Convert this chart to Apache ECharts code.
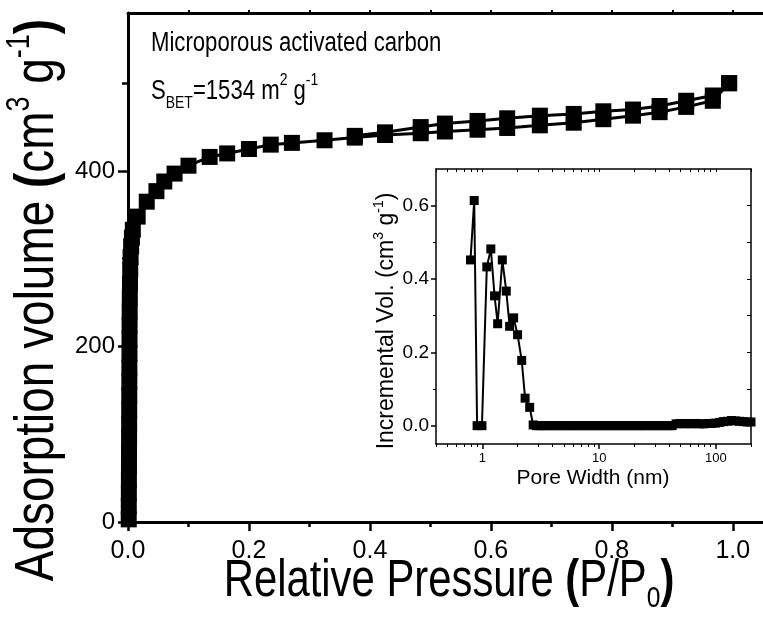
<!DOCTYPE html>
<html>
<head>
<meta charset="utf-8">
<script src="https://cdn.jsdelivr.net/npm/echarts@6/dist/echarts.min.js"></script>
<style>
html, body { margin: 0; padding: 0; background: #fff; }
#chart { width: 763px; height: 619px; }
</style>
</head>
<body>
<div id="chart"></div>
<script>
// isotherm, adsorption branch (P/P0, cm3/g)
const adsP = [0.0012, 0.0013, 0.0014, 0.0015, 0.0016, 0.0017, 0.0018, 0.0019, 0.0020, 0.0021, 0.0022, 0.0023, 0.0024, 0.0025, 0.0026,
  0.0028, 0.0030, 0.0033, 0.0037, 0.0043, 0.0052, 0.0065, 0.008,
  0.016, 0.031, 0.047, 0.060, 0.077, 0.100, 0.135, 0.164, 0.200, 0.236, 0.271, 0.325, 0.375, 0.425,
  0.484, 0.524, 0.578, 0.627, 0.681, 0.737, 0.786, 0.835, 0.879, 0.923, 0.967, 0.994]
const adsV = [3, 18, 33, 48, 64, 80, 96, 112, 128, 144, 160, 176, 192, 208, 224,
  240, 256, 272, 288, 302, 314, 324, 333,
  348, 365, 377, 388, 397, 406, 416, 420, 425, 430, 432, 435, 438, 441,
  443, 445, 447, 449, 452, 455, 459, 463, 467, 473, 480, 500]
// desorption branch
const desP = [0.994, 0.967, 0.923, 0.879, 0.835, 0.786, 0.737, 0.681, 0.627, 0.578, 0.524, 0.484, 0.425, 0.375]
const desV = [500, 486, 480, 474, 470, 468, 465, 463, 460, 457, 454, 450, 444, 440]

// inset: pore size distribution
const poreW = [0.79, 0.85, 0.90, 0.99, 1.09, 1.18, 1.27, 1.35, 1.48, 1.60, 1.71, 1.85, 2.00, 2.17, 2.32, 2.54, 2.72,
  2.9, 3.1, 3.3, 3.5, 3.8, 4.1, 4.4, 4.8, 5.2, 5.6, 6.0, 6.5, 7.0, 7.6, 8.2, 8.9, 9.6, 10.4, 11.2, 12.1,
  13.1, 14.2, 15.3, 16.6, 17.9, 19.4, 21, 22.7, 24.5, 26.5, 28.6, 30.9, 33.4, 36.1, 39, 42.2,
  45.6, 49.3, 53.3, 57.6, 62.3, 67.3, 72.8, 78.7, 85.1, 92, 99.5, 108, 116, 126, 136, 147, 159, 172, 186, 200]
const poreV = [0.452, 0.614, 0, 0, 0.433, 0.482, 0.354, 0.278, 0.452, 0.367, 0.271, 0.294, 0.248, 0.178, 0.075, 0.05, 0.002,
  0, 0, 0, 0, 0, 0, 0, 0, 0, 0, 0, 0, 0, 0, 0, 0, 0, 0, 0, 0,
  0, 0, 0, 0, 0, 0, 0, 0, 0, 0, 0, 0, 0, 0, 0, 0,
  0.005, 0.006, 0.005, 0.006, 0.005, 0.006, 0.005, 0.005, 0.006, 0.006, 0.007, 0.009, 0.011, 0.012, 0.014, 0.013, 0.012, 0.011, 0.01, 0.01]

// tick positions / labels
const xTicks = [0, 0.2, 0.4, 0.6, 0.8, 1.0]
const xMinor = [0.1, 0.3, 0.5, 0.7, 0.9]
const xTop = [0.1, 0.2, 0.3, 0.4, 0.5, 0.6, 0.7, 0.8, 0.9, 1.0]
const yTicks = [0, 200, 400]
const yMinor = [100, 300, 500]
const inXTicks = [1, 10, 100]
const inXMinor = [0.4, 0.5, 0.6, 0.7, 0.8, 0.9, 2, 3, 4, 5, 6, 7, 8, 9, 20, 30, 40, 50, 60, 70, 80, 90, 200]
const inYTicks = [0, 0.2, 0.4, 0.6]
const inYMinor = [0.1, 0.3, 0.5]

const FONT = "'Liberation Sans', Arial, sans-serif"
const SQ = 0.82 // the main figure's lettering is squeezed sideways

const zip = (a, b) => a.map((v, i) => [v, b[i]])

const chart = echarts.init(document.getElementById('chart'), null, { renderer: 'canvas' })

function axis(o) {
  // plain black axis, every piece switched on by the options given
  return {
    type: o.type || 'value',
    gridIndex: o.grid,
    position: o.position,
    min: o.min,
    max: o.max,
    splitLine: { show: false },
    axisLine: { show: o.line !== false, onZero: false, lineStyle: { color: '#000', width: o.lw || 3 } },
    axisTick: {
      show: !!o.ticks,
      customValues: o.ticks,
      inside: !!o.inside,
      length: o.tl || 8,
      lineStyle: { color: '#000', width: o.tw || 2.5 }
    },
    axisLabel: o.labels ? {
      show: true,
      customValues: o.labels,
      formatter: o.fmt,
      color: '#000',
      fontSize: o.fs,
      fontFamily: FONT,
      margin: o.margin
    } : { show: false }
  }
}

chart.setOption({
  animation: false,
  backgroundColor: '#fff',
  grid: [
    { left: 128, top: 13, width: 639, height: 509 },
    { left: 128, top: 13, width: 639, height: 509 },
    { left: 436, top: 169, width: 315, height: 275 },
    { left: 436, top: 169, width: 315, height: 275 }
  ],
  xAxis: [
    axis({ grid: 0, position: 'bottom', min: 0, max: 1.05, ticks: xTicks, labels: xTicks, fmt: v => v.toFixed(1), fs: 25, margin: 17, tl: 9 }),
    axis({ grid: 0, position: 'top', min: 0, max: 1.05, ticks: xTop, tl: 3, tw: 2 }),
    axis({ grid: 1, position: 'bottom', min: 0, max: 1.05, line: false, ticks: xMinor, tl: 5 }),
    axis({ grid: 2, type: 'log', position: 'bottom', min: 0.4, max: 200, lw: 1.5, ticks: inXTicks, tl: 5, tw: 1.5, labels: inXTicks, fmt: v => String(v), fs: 13, margin: 8 }),
    axis({ grid: 2, type: 'log', position: 'top', min: 0.4, max: 200, lw: 1.5, ticks: inXTicks.concat(inXMinor), inside: true, tl: 3, tw: 1 }),
    axis({ grid: 3, type: 'log', position: 'bottom', min: 0.4, max: 200, line: false, ticks: inXMinor, tl: 3, tw: 1 })
  ],
  yAxis: [
    axis({ grid: 0, position: 'left', min: 0, max: 580, ticks: yTicks, labels: yTicks, fmt: v => String(v), fs: 24, margin: 13, tl: 10 }),
    axis({ grid: 1, position: 'left', min: 0, max: 580, line: false, ticks: yMinor, tl: 6 }),
    axis({ grid: 2, position: 'left', min: -0.05, max: 0.7, lw: 1.5, ticks: inYTicks, tl: 5, tw: 1.5, labels: inYTicks, fmt: v => v.toFixed(1), fs: 19, margin: 7 }),
    axis({ grid: 2, position: 'right', min: -0.05, max: 0.7, lw: 1.5, ticks: inYTicks.concat(inYMinor), inside: true, tl: 4, tw: 1 }),
    axis({ grid: 3, position: 'left', min: -0.05, max: 0.7, line: false, ticks: inYMinor, tl: 3, tw: 1 })
  ],
  series: [
    {
      name: 'adsorption',
      type: 'line',
      xAxisIndex: 0,
      yAxisIndex: 0,
      data: zip(adsP, adsV),
      symbol: 'rect',
      symbolSize: 16,
      itemStyle: { color: '#000' },
      lineStyle: { color: '#000', width: 3 },
      clip: false
    },
    {
      name: 'desorption',
      type: 'line',
      xAxisIndex: 0,
      yAxisIndex: 0,
      data: zip(desP, desV),
      symbol: 'rect',
      symbolSize: 16,
      itemStyle: { color: '#000' },
      lineStyle: { color: '#000', width: 3 },
      clip: false
    },
    {
      name: 'pore',
      type: 'line',
      xAxisIndex: 3,
      yAxisIndex: 2,
      data: zip(poreW, poreV),
      symbol: 'rect',
      symbolSize: 9,
      itemStyle: { color: '#000' },
      lineStyle: { color: '#000', width: 2 },
      clip: false
    }
  ],
  graphic: [
    {
      type: 'text', x: 151, y: 44, scaleX: SQ,
      style: { text: 'Microporous activated carbon', font: '27px ' + FONT, fill: '#000', verticalAlign: 'middle' }
    },
    {
      type: 'text', x: 151, y: 92, scaleX: SQ,
      style: {
        text: '{n|S}{sub|BET}{n|=1534 m}{sup|2}{n| g}{sup|-1}',
        fill: '#000', verticalAlign: 'middle',
        rich: {
          n: { fontSize: 27, fontFamily: FONT, lineHeight: 40, verticalAlign: 'middle' },
          sub: { fontSize: 17, fontFamily: FONT, verticalAlign: 'bottom' },
          sup: { fontSize: 17, fontFamily: FONT, verticalAlign: 'top' }
        }
      }
    },
    {
      type: 'text', x: 38, y: 300, rotation: Math.PI / 2, scaleX: SQ,
      style: {
        text: '{n|Adsorption volume }{b|(}{n|cm}{sup|3}{n| g}{sup|-1}{b|)}',
        fill: '#000', align: 'center', verticalAlign: 'middle',
        rich: {
          n: { fontSize: 56, fontFamily: FONT, lineHeight: 70, verticalAlign: 'middle' },
          b: { fontSize: 56, fontFamily: FONT, fontWeight: 'bold', verticalAlign: 'middle' },
          sup: { fontSize: 33, fontFamily: FONT, verticalAlign: 'top' }
        }
      }
    },
    {
      type: 'text', x: 449, y: 582, scaleX: SQ,
      style: {
        text: '{n|Relative Pressure }{b|(}{n|P/P}{sub|0}{b|)}',
        fill: '#000', align: 'center', verticalAlign: 'middle',
        rich: {
          n: { fontSize: 51, fontFamily: FONT, lineHeight: 64, verticalAlign: 'middle' },
          b: { fontSize: 51, fontFamily: FONT, fontWeight: 'bold', verticalAlign: 'middle' },
          sub: { fontSize: 30, fontFamily: FONT, verticalAlign: 'bottom' }
        }
      }
    },
    {
      type: 'text', x: 387, y: 321, rotation: Math.PI / 2,
      style: {
        text: '{n|Incremental Vol. (cm}{sup|3}{n| g}{sup|-1}{n|)}',
        fill: '#000', align: 'center', verticalAlign: 'middle',
        rich: {
          n: { fontSize: 23, fontFamily: FONT, lineHeight: 30, verticalAlign: 'middle' },
          sup: { fontSize: 14, fontFamily: FONT, verticalAlign: 'top' }
        }
      }
    },
    {
      type: 'text', x: 593, y: 478,
      style: { text: 'Pore Width (nm)', font: '21px ' + FONT, fill: '#000', align: 'center', verticalAlign: 'middle' }
    }
  ]
})
</script>
</body>
</html>
